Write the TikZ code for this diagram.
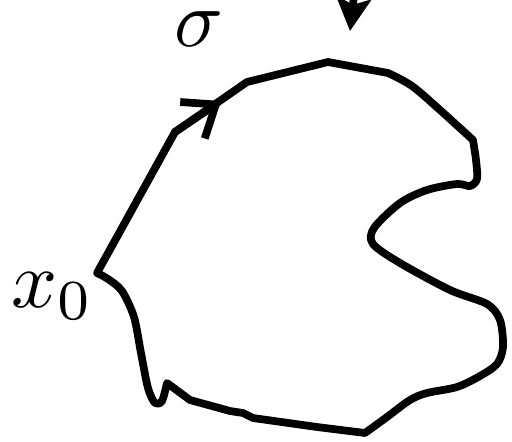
\documentclass[tikz,border=0pt]{standalone}
\usepackage{tikz}
\usetikzlibrary{arrows.meta}

\begin{document}
\begin{tikzpicture}[
  x=0.02cm, y=-0.02cm,
  loop/.style={line width=4.4pt, line join=round, line cap=round},
  arr/.style={-{Stealth[length=19pt, width=20pt, inset=4pt]}, line width=4.4pt},
  tick/.style={-{Straight Barb[length=16pt, width=25pt]}, line width=4.4pt, line cap=round},
  lbl/.style={inner sep=0pt, scale=4.6}
]
  \useasboundingbox (0,0) rectangle (512,441);
  % labels
  \node[lbl] (sig) at (199,29) {$\sigma$};
  \node[lbl, anchor=base west] (xo) at (10,307) {$x_0$};
  % the closed path
  \draw[loop] (97,273) -- (175,132) -- (247,82) -- (328,62) -- (388,73)
    -- plot[smooth, tension=0.55] coordinates {(388,73) (412,86) (440,110) (473,140)}
    -- plot[smooth, tension=0.5] coordinates {(473,140) (476,160) (477,179) (470,186) (457,184)
       (427,190) (400,203) (374,228) (373,244) (400,263) (450,290) (487,304) (500,320)
       (503,347) (497,364) (480,376) (457,387) (427,393) (410,400) (387,417) (365,433)}
    -- (317,427) -- (253,418) -- (243,413) -- (230,411) -- (190,400) -- (167,383)
    -- plot[smooth, tension=0.5] coordinates {(167,383) (162,401) (155,403) (148,388)
       (141,353) (134,317) (122,291) (108,279) (97,273)}
    -- cycle;
  % direction mark on the path
  \coordinate (m0) at (175,132);
  \coordinate (m1) at (221,101);
  \draw[tick] (m0) -- (m1);
  % arrow from above
  \coordinate (top) at (358,-40);
  \coordinate (tip) at (350,31);
  \begin{scope}
    \clip (0,0) rectangle (512,441);
    \draw[arr] (top) -- (tip);
  \end{scope}
\end{tikzpicture}
\end{document}
